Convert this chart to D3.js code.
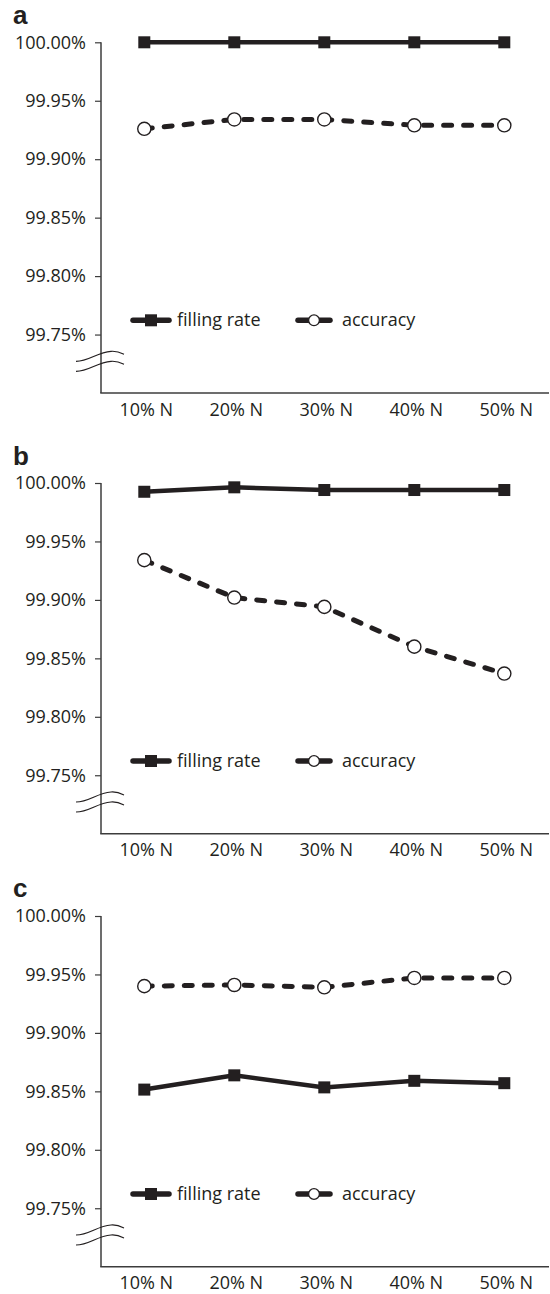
<!DOCTYPE html>
<html>
<head>
<meta charset="utf-8">
<script src="https://cdn.jsdelivr.net/npm/d3@7"></script>
<style>
  body { margin: 0; background: #fff; }
  svg text { font-family: "Open Sans", sans-serif; fill: #231f20; }
</style>
</head>
<body>
<div id="chart"></div>
<script>
// values (percent)
var categories = ["10% N", "20% N", "30% N", "40% N", "50% N"];
var yTicks = [99.75, 99.80, 99.85, 99.90, 99.95, 100.00];
var panelLabels = ["a", "b", "c"];

var fillingA = [100.00, 100.00, 100.00, 100.00, 100.00];
var accuracyA = [99.926, 99.934, 99.934, 99.929, 99.929];
var fillingB = [99.9925, 99.9963, 99.994, 99.994, 99.994];
var accuracyB = [99.934, 99.902, 99.894, 99.860, 99.837];
var fillingC = [99.8515, 99.8637, 99.8534, 99.859, 99.857];
var accuracyC = [99.940, 99.941, 99.939, 99.947, 99.947];

var panels = [
  { label: panelLabels[0], top: 42.3, filling: fillingA, accuracy: accuracyA },
  { label: panelLabels[1], top: 483, filling: fillingB, accuracy: accuracyB },
  { label: panelLabels[2], top: 916, filling: fillingC, accuracy: accuracyC }
];

var W = 550, H = 1294;
var axisX = 101, axisRight = 549, plotH = 350.7;
var ink = "#231f20", axisColor = "#3c3c3c";

var svg = d3.select("#chart").append("svg")
  .attr("width", W)
  .attr("height", H);

var x = d3.scalePoint().domain(categories).range([144.3, 504.3]);

panels.forEach(function (p) {
  var g = svg.append("g").attr("transform", "translate(0," + p.top + ")");
  var y = d3.scaleLinear().domain([99.70, 100]).range([plotH, 0]);

  // panel letter
  g.append("text")
    .attr("x", 13)
    .attr("y", p.label == "c" ? -19 : -18)
    .style("font-family", "'Liberation Sans', Arial, sans-serif")
    .style("font-weight", "bold")
    .style("font-size", "26px")
    .text(p.label);

  // y axis
  var ya = g.append("g")
    .attr("transform", "translate(" + axisX + ",0)")
    .call(d3.axisLeft(y).tickValues(yTicks)
      .tickFormat(function (d) { return d3.format(".2f")(d) + "%"; })
      .tickSize(6).tickPadding(9).tickSizeOuter(0));
  ya.select(".domain").remove();
  ya.append("line")
    .attr("x1", 0).attr("x2", 0)
    .attr("y1", y(100)).attr("y2", plotH)
    .attr("stroke", axisColor).attr("stroke-width", 1.5);
  ya.selectAll(".tick line").attr("stroke", axisColor).attr("stroke-width", 1.2);
  ya.selectAll(".tick text")
    .style("font-size", "18px")
    .attr("fill", ink);

  // x axis
  var xa = g.append("g")
    .attr("transform", "translate(0," + plotH + ")")
    .call(d3.axisBottom(x).tickSize(0).tickPadding(10));
  xa.select(".domain").remove();
  xa.append("line")
    .attr("x1", axisX - 0.75).attr("x2", axisRight)
    .attr("y1", 0).attr("y2", 0)
    .attr("stroke", axisColor).attr("stroke-width", 1.5);
  xa.selectAll(".tick text")
    .attr("dx", 1.5)
    .style("font-size", "18px")
    .attr("fill", ink);

  // axis break marks
  [314, 324].forEach(function (yy) {
    g.append("path")
      .attr("d", "M" + (axisX - 25) + "," + (yy + 5) +
        " C" + (axisX - 12) + "," + (yy + 5) + " " + (axisX - 4) + "," + (yy - 4) + " " + (axisX + 10) + "," + (yy - 5) +
        " C" + (axisX + 17) + "," + (yy - 5.5) + " " + (axisX + 21) + "," + (yy - 3) + " " + (axisX + 23) + "," + (yy - 2))
      .attr("fill", "none")
      .attr("stroke", ink)
      .attr("stroke-width", 1.2);
  });

  var line = d3.line()
    .x(function (d, i) { return x(categories[i]); })
    .y(function (d) { return y(d); });

  // filling rate
  g.append("path")
    .datum(p.filling)
    .attr("d", line)
    .attr("fill", "none")
    .attr("stroke", ink)
    .attr("stroke-width", 4.5);
  g.selectAll(".sq")
    .data(p.filling)
    .enter()
    .append("rect")
    .attr("x", function (d, i) { return x(categories[i]) - 6; })
    .attr("y", function (d) { return y(d) - 6; })
    .attr("width", 12)
    .attr("height", 12)
    .attr("fill", ink);

  // accuracy
  g.append("path")
    .datum(p.accuracy)
    .attr("d", line)
    .attr("fill", "none")
    .attr("stroke", ink)
    .attr("stroke-width", 5)
    .attr("stroke-linecap", "round")
    .attr("stroke-dasharray", "8,12");
  g.selectAll(".ci")
    .data(p.accuracy)
    .enter()
    .append("circle")
    .attr("cx", function (d, i) { return x(categories[i]); })
    .attr("cy", function (d) { return y(d); })
    .attr("r", 6.6)
    .attr("fill", "#fff")
    .attr("stroke", ink)
    .attr("stroke-width", 1.4);

  // legend
  var ly = 278;
  g.append("line")
    .attr("x1", 133).attr("x2", 169)
    .attr("y1", ly).attr("y2", ly)
    .attr("stroke", ink).attr("stroke-width", 5.5).attr("stroke-linecap", "round");
  g.append("rect")
    .attr("x", 145).attr("y", ly - 6)
    .attr("width", 12).attr("height", 12)
    .attr("fill", ink);
  g.append("text")
    .attr("x", 177).attr("y", ly)
    .attr("dy", "0.32em")
    .style("font-size", "18px")
    .text("filling rate");

  g.append("line")
    .attr("x1", 298).attr("x2", 330)
    .attr("y1", ly).attr("y2", ly)
    .attr("stroke", ink).attr("stroke-width", 5.5).attr("stroke-linecap", "round");
  g.append("circle")
    .attr("cx", 314).attr("cy", ly)
    .attr("r", 5.4)
    .attr("fill", "#fff")
    .attr("stroke", ink)
    .attr("stroke-width", 1.3);
  g.append("text")
    .attr("x", 342).attr("y", ly)
    .attr("dy", "0.32em")
    .style("font-size", "18px")
    .text("accuracy");
});
</script>
</body>
</html>
